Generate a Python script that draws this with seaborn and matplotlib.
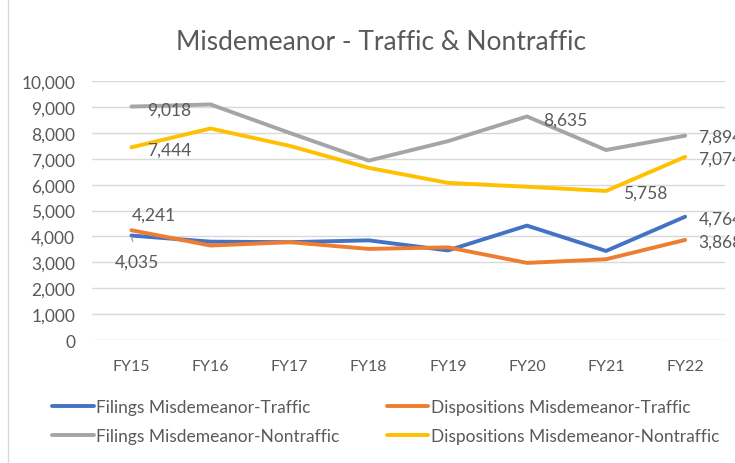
import pandas as pd
import matplotlib.pyplot as plt
import seaborn as sns
from matplotlib.lines import Line2D

# data
years = ['FY15', 'FY16', 'FY17', 'FY18', 'FY19', 'FY20', 'FY21', 'FY22']
filings_traffic = [4035, 3800, 3780, 3850, 3460, 4420, 3440, 4764]
dispositions_traffic = [4241, 3650, 3780, 3520, 3580, 2980, 3120, 3868]
filings_nontraffic = [9018, 9100, 8000, 6930, 7680, 8635, 7340, 7894]
dispositions_nontraffic = [7444, 8170, 7500, 6650, 6070, 5920, 5758, 7074]

series = ['Filings Misdemeanor-Traffic', 'Dispositions Misdemeanor-Traffic',
          'Filings Misdemeanor-Nontraffic', 'Dispositions Misdemeanor-Nontraffic']
colors = ['#4472C4', '#ED7D31', '#A5A5A5', '#FFC000']

df = pd.DataFrame({
    'year': years * 4,
    'value': filings_traffic + dispositions_traffic + filings_nontraffic + dispositions_nontraffic,
    'serie': [s for s in series for _ in years],
})

sns.set_style('white')
plt.rcParams['font.family'] = ['Lato', 'DejaVu Sans']
txt = '#595959'

fig = plt.figure(figsize=(7.35, 4.64), dpi=100)
ax = fig.add_axes([0.125, 0.265, 0.861, 0.558])

sns.lineplot(data=df, x='year', y='value', hue='serie', hue_order=series,
             palette=colors, linewidth=2.8, sort=False, legend=False, ax=ax)

ax.set_ylim(0, 10000)
ax.set_xlim(-0.5, 7.5)
ax.set_yticks(range(0, 10001, 1000))
ax.set_yticklabels([f'{v:,}' for v in range(0, 10001, 1000)])
ax.yaxis.grid(True, color='#D9D9D9', linewidth=1)
ax.set_axisbelow(True)
for s in ax.spines.values():
    s.set_visible(False)
ax.tick_params(axis='both', length=0, labelcolor=txt)
ax.tick_params(axis='y', pad=12, labelsize=12.5)
ax.tick_params(axis='x', pad=14, labelsize=11.5)
ax.set_xlabel('')
ax.set_ylabel('')

# data labels, desplazamiento en puntos
lab = dict(fontsize=12.5, color=txt, clip_on=False, textcoords='offset points', va='center')
ax.annotate(f'{filings_nontraffic[0]:,}', (0, filings_nontraffic[0]), xytext=(11.5, -2), ha='left', **lab)
ax.annotate(f'{dispositions_nontraffic[0]:,}', (0, dispositions_nontraffic[0]), xytext=(11.5, -1.5), ha='left', **lab)
ax.annotate(f'{dispositions_traffic[0]:,}', (0, dispositions_traffic[0]), xytext=(16, 11.5), ha='center', **lab)
ax.annotate(f'{filings_traffic[0]:,}', (0, filings_traffic[0]), xytext=(4.3, -19), ha='center',
            arrowprops=dict(arrowstyle='-', color='#A5A5A5', lw=1, shrinkA=7, shrinkB=1), **lab)
ax.annotate(f'{filings_nontraffic[5]:,}', (5, filings_nontraffic[5]), xytext=(11.5, -2), ha='left', **lab)
ax.annotate(f'{dispositions_nontraffic[6]:,}', (6, dispositions_nontraffic[6]), xytext=(12, -1.5), ha='left', **lab)
ax.annotate(f'{filings_nontraffic[7]:,}', (7, filings_nontraffic[7]), xytext=(9.5, -1), ha='left', **lab)
ax.annotate(f'{dispositions_nontraffic[7]:,}', (7, dispositions_nontraffic[7]), xytext=(9.5, -1.5), ha='left', **lab)
ax.annotate(f'{filings_traffic[7]:,}', (7, filings_traffic[7]), xytext=(9.5, -1.5), ha='left', **lab)
ax.annotate(f'{dispositions_traffic[7]:,}', (7, dispositions_traffic[7]), xytext=(9.5, -1.5), ha='left', **lab)

fig.text(0.518, 0.909, 'Misdemeanor - Traffic & Nontraffic', ha='center', va='center',
         fontsize=19, color=txt)

# legend (se llena por columnas)
order = [0, 2, 1, 3]
handles = [Line2D([0], [0], color=colors[i], lw=2.8) for i in order]
fig.legend(handles, [series[i] for i in order], loc='center', bbox_to_anchor=(0.525, 0.089), ncol=2,
           frameon=False, fontsize=12.5, labelcolor=txt, handlelength=2.4,
           handletextpad=0.15, columnspacing=2.7, borderaxespad=0, labelspacing=0.75)

# borde del grafico
fig.add_artist(Line2D([0.011, 0.011], [0, 1], transform=fig.transFigure, color='#D9D9D9', lw=1))

fig.savefig('out.png', dpi=100)
